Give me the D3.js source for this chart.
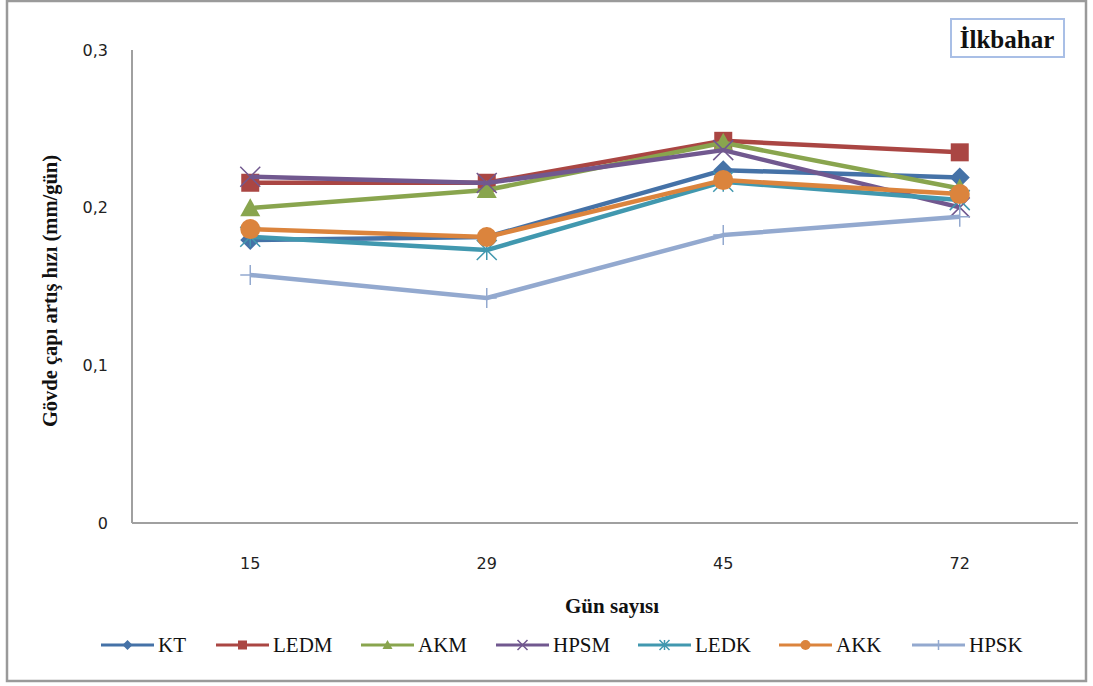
<!DOCTYPE html>
<html>
<head>
<meta charset="utf-8">
<script src="https://cdn.jsdelivr.net/npm/d3@7"></script>
<style>
  html, body { margin: 0; padding: 0; background: #fff; }
  svg { display: block; }
</style>
</head>
<body>
<svg id="chart" width="1093" height="686"></svg>
<script>
// Sampling days (x categories)
const days = ["15", "29", "45", "72"];

// Stem diameter growth rate (mm/day) per treatment
const KT   = [0.1795, 0.1814, 0.2238, 0.2192];
const LEDM = [0.2158, 0.2158, 0.2424, 0.2351];
const AKM  = [0.1997, 0.2112, 0.2412, 0.2122];
const HPSM = [0.2196, 0.2156, 0.2365, 0.2002];
const LEDK = [0.1815, 0.1731, 0.2164, 0.2048];
const AKK  = [0.1864, 0.1814, 0.2175, 0.2086];
const HPSK = [0.1573, 0.1427, 0.1826, 0.1942];

const yTicks = [0, 0.1, 0.2, 0.3];

const seriesNames = ["KT", "LEDM", "AKM", "HPSM", "LEDK", "AKK", "HPSK"];
const seriesValues = [KT, LEDM, AKM, HPSM, LEDK, AKK, HPSK];
const seriesColors = ["#4572a7", "#aa4643", "#89a54e", "#71588f", "#4198af", "#db843d", "#93a9cf"];
const seriesMarkers = ["diamond", "square", "triangle", "x", "asterisk", "circle", "plus"];

const series = seriesNames.map((name, i) => ({
  name, values: seriesValues[i], color: seriesColors[i], marker: seriesMarkers[i]
}));

const svg = d3.select("#chart");

// Outer frame
svg.append("rect")
  .attr("x", 7).attr("y", 1).attr("width", 1079).attr("height", 680)
  .attr("fill", "#fff").attr("stroke", "#9a9a9a").attr("stroke-width", 2.5);

const plot = { left: 132, right: 1078, top: 50, bottom: 523 };

const x = d3.scalePoint().domain(days).range([plot.left, plot.right]).padding(0.5);
const y = d3.scaleLinear().domain([0, 0.3]).range([plot.bottom, plot.top]);

const fmt = v => v === 0 ? "0" : d3.format(".1f")(v).replace(".", ",");

// Axes lines
svg.append("line")
  .attr("x1", plot.left).attr("x2", plot.left)
  .attr("y1", y(0.3)).attr("y2", y(0))
  .attr("stroke", "#a0a0a0").attr("stroke-width", 2);
svg.append("line")
  .attr("x1", plot.left).attr("x2", plot.right)
  .attr("y1", y(0)).attr("y2", y(0))
  .attr("stroke", "#a0a0a0").attr("stroke-width", 2);

// Y tick labels
svg.append("g").selectAll("text")
  .data(yTicks).join("text")
  .attr("x", 108).attr("y", d => y(d))
  .attr("dy", "0.35em")
  .attr("text-anchor", "end")
  .attr("font-family", "DejaVu Sans")
  .attr("font-size", 16)
  .attr("fill", "#222")
  .text(fmt);

// X tick labels
svg.append("g").selectAll("text")
  .data(days).join("text")
  .attr("x", d => x(d)).attr("y", 563)
  .attr("dy", "0.35em")
  .attr("text-anchor", "middle")
  .attr("font-family", "DejaVu Sans")
  .attr("font-size", 16)
  .attr("fill", "#222")
  .text(d => d);

// Axis titles
svg.append("text")
  .attr("x", 612).attr("y", 606)
  .attr("dy", "0.35em")
  .attr("text-anchor", "middle")
  .attr("font-family", "Liberation Serif")
  .attr("font-weight", "bold")
  .attr("font-size", 21)
  .attr("fill", "#111")
  .text("Gün sayısı");

svg.append("text")
  .attr("transform", "translate(50,291) rotate(-90)")
  .attr("dy", "0.35em")
  .attr("text-anchor", "middle")
  .attr("font-family", "Liberation Serif")
  .attr("font-weight", "bold")
  .attr("font-size", 20.5)
  .attr("fill", "#111")
  .text("Gövde çapı artış hızı (mm/gün)");

// Season label box
svg.append("rect")
  .attr("x", 951).attr("y", 19).attr("width", 113).attr("height", 38)
  .attr("fill", "#fff").attr("stroke", "#a9bfe6").attr("stroke-width", 2);
svg.append("text")
  .attr("x", 1007).attr("y", 39)
  .attr("dy", "0.35em")
  .attr("text-anchor", "middle")
  .attr("font-family", "Liberation Serif")
  .attr("font-weight", "bold")
  .attr("font-size", 25)
  .attr("fill", "#111")
  .text("İlkbahar");

// Marker drawing
function drawMarker(g, type, color, s) {
  switch (type) {
    case "diamond":
      g.append("path").attr("d", `M0,${-s}L${s},0L0,${s}L${-s},0Z`).attr("fill", color);
      break;
    case "square":
      g.append("rect").attr("x", -s * 0.9).attr("y", -s * 0.9)
        .attr("width", s * 1.8).attr("height", s * 1.8).attr("fill", color);
      break;
    case "triangle":
      g.append("path").attr("d", `M0,${-s}L${s},${s * 0.8}L${-s},${s * 0.8}Z`).attr("fill", color);
      break;
    case "circle":
      g.append("circle").attr("r", s).attr("fill", color);
      break;
    case "x":
      g.append("path").attr("d", `M${-s},${-s}L${s},${s}M${-s},${s}L${s},${-s}`)
        .attr("stroke", color).attr("stroke-width", 1.5).attr("fill", "none");
      break;
    case "asterisk":
      g.append("path").attr("d", `M${-s},${-s}L${s},${s}M${-s},${s}L${s},${-s}M0,${-s}L0,${s}`)
        .attr("stroke", color).attr("stroke-width", 1.5).attr("fill", "none");
      break;
    case "plus":
      g.append("path").attr("d", `M${-s},0L${s},0M0,${-s}L0,${s}`)
        .attr("stroke", color).attr("stroke-width", 1.5).attr("fill", "none");
      break;
  }
}

const line = d3.line().x((d, i) => x(days[i])).y(d => y(d));

const seriesG = svg.append("g");
series.forEach(s => {
  const g = seriesG.append("g");
  g.append("path")
    .datum(s.values)
    .attr("d", line)
    .attr("fill", "none")
    .attr("stroke", s.color)
    .attr("stroke-width", 4.5)
    .attr("stroke-linejoin", "round");
  s.values.forEach((v, i) => {
    const m = g.append("g").attr("transform", `translate(${x(days[i])},${y(v)})`);
    drawMarker(m, s.marker, s.color, 10);
  });
});

// Legend
const legendX = [101, 216, 361, 496, 638, 779, 912];
const legendY = 645;
const legend = svg.append("g");
series.forEach((s, i) => {
  const g = legend.append("g").attr("transform", `translate(${legendX[i]},${legendY})`);
  g.append("line").attr("x1", 0).attr("x2", 53).attr("y1", 0).attr("y2", 0)
    .attr("stroke", s.color).attr("stroke-width", 3);
  const m = g.append("g").attr("transform", "translate(26.5,0)");
  drawMarker(m, s.marker, s.color, 5);
  g.append("text")
    .attr("x", 57).attr("y", 0).attr("dy", "0.35em")
    .attr("font-family", "Liberation Serif")
    .attr("font-size", 21)
    .attr("fill", "#111")
    .text(s.name);
});
</script>
</body>
</html>
